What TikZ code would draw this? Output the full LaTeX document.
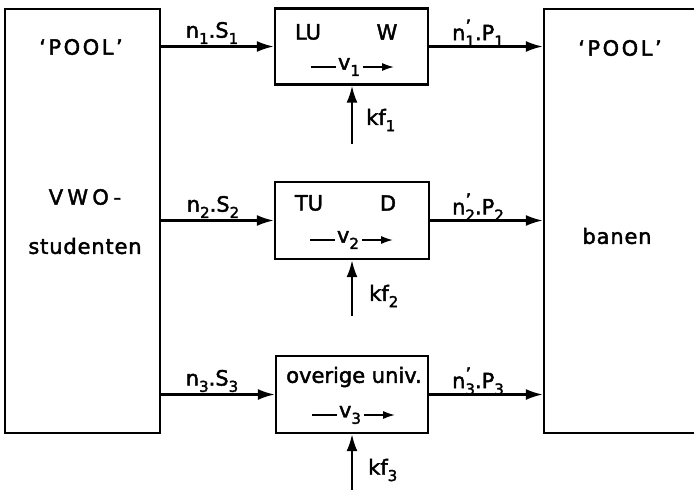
\documentclass[tikz,border=0pt]{standalone}
\usepackage{fontspec}
\setmainfont{DejaVu Sans}[Ligatures=TeX, FakeBold=2]
\usetikzlibrary{arrows.meta}
\newcommand\lo[1]{\raisebox{-0.55ex}{\fontsize{15}{15}\selectfont #1}}
\newcommand\prsub[1]{\raisebox{-0.55ex}{\fontsize{15}{10}\selectfont\shortstack[l]{\fontsize{18}{18}\selectfont '\\#1}}}
\begin{document}
\begin{tikzpicture}[x=1pt,y=-1pt,
  blk/.style={draw, line width=2.3pt, inner sep=0pt},
  lbl/.style={font=\fontsize{21}{24}\selectfont, inner sep=0pt},
  flow/.style={line width=2.3pt, -{Latex[length=17pt,width=11pt]}},
  inner/.style={line width=2pt},
  innerarr/.style={line width=2pt, -{Latex[length=12pt,width=8pt]}}]
\useasboundingbox (0,0) rectangle (694,490);
\clip (0,0) rectangle (694,490);
% big boxes
\node[blk, minimum width=155pt, minimum height=424pt] (L) at (82.5,221) {};
\node[blk, minimum width=155pt, minimum height=424pt] (R) at (621.5,221) {};
% middle boxes
\node[blk, minimum width=153pt, minimum height=76pt] (B1) at (351.5,46.5) {};
\node[blk, minimum width=154pt, minimum height=77pt] (B2) at (352,220.5) {};
\node[blk, minimum width=152pt, minimum height=77pt] (B3) at (352,394.5) {};
% texts in big boxes
\node[lbl] (p1) at (81,47) {\addfontfeatures{LetterSpace=12}`POOL'};
\node[lbl] (vwo) at (85,197) {\addfontfeatures{LetterSpace=20}VWO-};
\node[lbl] (stu) at (85,246) {\addfontfeatures{LetterSpace=4}studenten};
\node[lbl] (p2) at (620,48) {\addfontfeatures{LetterSpace=12}`POOL'};
\node[lbl] (ban) at (617,236) {\addfontfeatures{LetterSpace=4}banen};
% texts in middle boxes
\node[lbl] (lu) at (308,32) {LU};
\node[lbl] (w) at (387,32) {W};
\node[lbl] (tu) at (309,203) {TU};
\node[lbl] (d) at (388,203) {D};
\node[lbl] (ov) at (354,377) {overige univ.};
\node[lbl] (v1) at (349,67) {v\lo{1}};
\node[lbl] (v2) at (348,240) {v\lo{2}};
\node[lbl] (v3) at (350,415) {v\lo{3}};
\foreach \v in {v1,v2,v3}{
  \draw[inner] (\v.west) ++(-2,0) -- ++(-25,0);
  \draw[innerarr] (\v.east) ++(3,0) -- ++(31,0);
}
% flows
\draw[flow] (L.east |- B1.west) -- (B1.west);
\draw[flow] (L.east |- B2.west) -- (B2.west);
\draw[flow] (L.east |- B3.west) -- (B3.west);
\draw[flow] (B1.east) -- (R.west |- B1.east);
\draw[flow] (B2.east) -- (R.west |- B2.east);
\draw[flow] (B3.east) -- (R.west |- B3.east);
% flow labels
\node[lbl] (a1) at (212,33) {n\lo{1}.S\lo{1}};
\node[lbl] (a2) at (213,207) {n\lo{2}.S\lo{2}};
\node[lbl] (a3) at (212,381) {n\lo{3}.S\lo{3}};
\node[lbl] (b1) at (478,33) {n\prsub{1}.P\lo{1}};
\node[lbl] (b2) at (478,207) {n\prsub{2}.P\lo{2}};
\node[lbl] (b3) at (478,381) {n\prsub{3}.P\lo{3}};
% kf inputs
\coordinate (k1) at (352,144);
\coordinate (k2) at (352,316);
\coordinate (k3) at (352,490);
\draw[flow] (k1) -- (k1 |- B1.south);
\draw[flow] (k2) -- (k2 |- B2.south);
\draw[flow] (k3) -- (k3 |- B3.south);
\node[lbl, anchor=west] (kf1) at (366,120) {kf\lo{1}};
\node[lbl, anchor=west] (kf2) at (369,296) {kf\lo{2}};
\node[lbl, anchor=west] (kf3) at (368,470) {kf\lo{3}};
\end{tikzpicture}
\end{document}
